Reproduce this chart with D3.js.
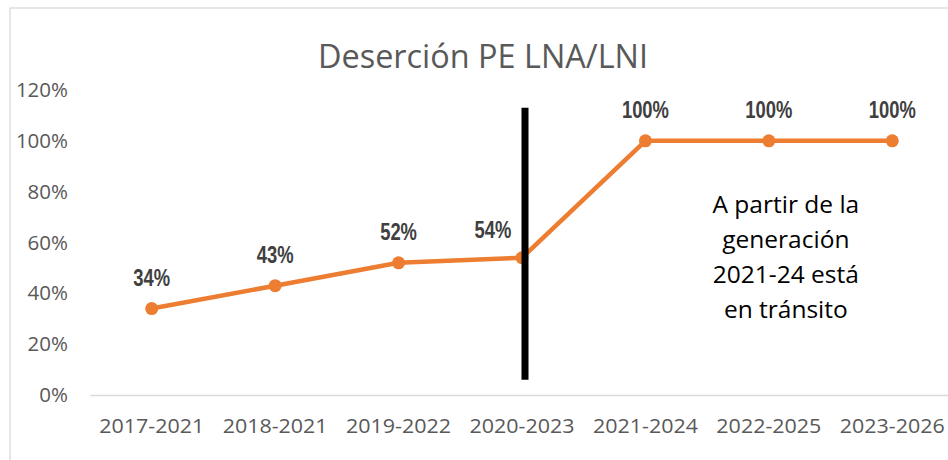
<!DOCTYPE html>
<html>
<head>
<meta charset="utf-8">
<script src="https://cdn.jsdelivr.net/npm/d3@7"></script>
<style>
  body { margin: 0; background: #fff; }
  svg { display: block; }
</style>
</head>
<body>
<div id="chart-container"></div>
<script>
const categories = ["2017-2021", "2018-2021", "2019-2022", "2020-2023", "2021-2024", "2022-2025", "2023-2026"];
const desercion = [0.34, 0.43, 0.52, 0.54, 1.00, 1.00, 1.00];
const yTicks = [0, 0.2, 0.4, 0.6, 0.8, 1.0, 1.2];
const title = "Deserción PE LNA/LNI";
const noteLines = ["A partir de la", "generación", "2021-24 está", "en tránsito"];

const W = 948, H = 460;
const margin = {top: 90, right: -6, bottom: 65, left: 90};

const svg = d3.select("#chart-container").append("svg")
    .attr("width", W)
    .attr("height", H);

// chart frame
svg.append("rect")
    .attr("x", 10).attr("y", 8)
    .attr("width", W + 20).attr("height", H + 20)
    .attr("fill", "#fff")
    .attr("stroke", "#d9d9d9")
    .attr("stroke-width", 1.3);

const x = d3.scaleBand()
    .domain(categories)
    .range([margin.left, W - margin.right])
    .padding(0);

const y = d3.scaleLinear()
    .domain([0, 1.2])
    .range([H - margin.bottom, margin.top]);

const cx = d => x(d) + x.bandwidth() / 2;

// title
svg.append("text")
    .attr("x", 483)
    .attr("y", 68)
    .attr("text-anchor", "middle")
    .attr("font-family", "Open Sans, sans-serif")
    .attr("font-size", 32)
    .attr("fill", "#595959")
    .attr("textLength", 330)
    .attr("lengthAdjust", "spacingAndGlyphs")
    .text(title);

// y axis labels
const yAxis = svg.append("g")
    .attr("transform", `translate(${margin.left}, 0)`)
    .call(d3.axisLeft(y).tickValues(yTicks).tickFormat(d3.format(".0%")).tickSize(0).tickPadding(22));
yAxis.select(".domain").remove();
yAxis.selectAll("text")
    .attr("font-family", "Open Sans, sans-serif")
    .attr("font-size", 20.5)
    .attr("fill", "#595959");

// x axis
const xAxis = svg.append("g")
    .attr("transform", `translate(0, ${y(0)})`)
    .call(d3.axisBottom(x).tickSize(0).tickPadding(23));
xAxis.select(".domain")
    .attr("stroke", "#d9d9d9")
    .attr("stroke-width", 1.5);
xAxis.selectAll("text")
    .attr("font-family", "Open Sans, sans-serif")
    .attr("font-size", 20.5)
    .attr("fill", "#595959")
    .attr("textLength", 105)
    .attr("lengthAdjust", "spacingAndGlyphs");

// line
const line = d3.line()
    .x((d, i) => cx(categories[i]))
    .y(d => y(d));

svg.append("path")
    .datum(desercion)
    .attr("fill", "none")
    .attr("stroke", "#ed7d31")
    .attr("stroke-width", 4.5)
    .attr("stroke-linejoin", "round")
    .attr("d", line);

svg.selectAll(".dot")
    .data(desercion)
    .enter().append("circle")
    .attr("class", "dot")
    .attr("cx", (d, i) => cx(categories[i]))
    .attr("cy", d => y(d))
    .attr("r", 6.5)
    .attr("fill", "#ed7d31");

// data labels (the one next to the divider is nudged left, as in the original)
const labelDx = (i) => categories[i] === "2020-2023" ? -29 : 0;
const labelDy = (i) => categories[i] === "2020-2023" ? -20 : -23;
svg.selectAll(".lbl")
    .data(desercion)
    .enter().append("text")
    .attr("class", "lbl")
    .attr("transform", (d, i) => `translate(${cx(categories[i]) + labelDx(i)}, ${y(d) + labelDy(i)}) scale(0.8, 1)`)
    .attr("text-anchor", "middle")
    .attr("font-family", "Liberation Sans, Arial, sans-serif")
    .attr("font-weight", "bold")
    .attr("font-size", 23)
    .attr("fill", "#404040")
    .text(d => d3.format(".0%")(d));

// vertical divider after 2020-2023
svg.append("line")
    .attr("x1", cx("2020-2023") + 3)
    .attr("x2", cx("2020-2023") + 3)
    .attr("y1", y(1.13))
    .attr("y2", y(0.06))
    .attr("stroke", "#000")
    .attr("stroke-width", 7);

// note
const note = svg.append("text")
    .attr("text-anchor", "middle")
    .attr("font-family", "Open Sans, sans-serif")
    .attr("font-size", 24.5)
    .attr("fill", "#000");
note.selectAll("tspan")
    .data(noteLines)
    .enter().append("tspan")
    .attr("x", (cx("2021-2024") + cx("2023-2026")) / 2 + 17)
    .attr("y", (d, i) => y(0.72) + 1 + i * 35)
    .text(d => d);
</script>
</body>
</html>
